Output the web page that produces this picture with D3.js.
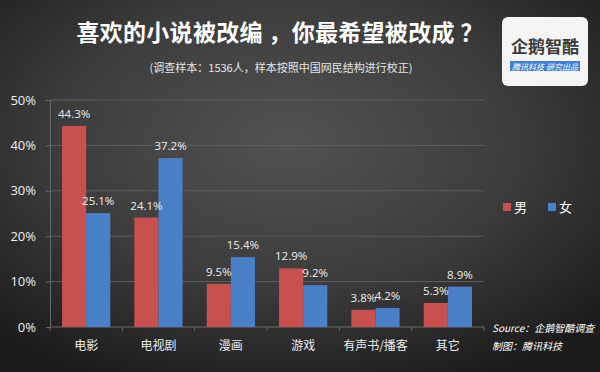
<!DOCTYPE html>
<html>
<head>
<meta charset="utf-8">
<script src="https://cdn.jsdelivr.net/npm/d3@7"></script>
<style>
  html, body { margin: 0; padding: 0; background: #2a2a2a; }
  svg { display: block; font-family: "Noto Sans CJK SC", "Noto Sans", sans-serif; }
</style>
</head>
<body>
<svg id="chart" width="600" height="372"></svg>
<script>
// Data.
var categories = ["电影", "电视剧", "漫画", "游戏", "有声书/播客", "其它"];
var seriesNames = ["男", "女"];
var maleValues = [44.3, 24.1, 9.5, 12.9, 3.8, 5.3];
var femaleValues = [25.1, 37.2, 15.4, 9.2, 4.2, 8.9];
var yTicks = [0, 10, 20, 30, 40, 50];
var colors = { "男": "#c8504e", "女": "#4a80c8" };

var svg = d3.select("#chart");
var W = 600, H = 372;

// Background: dark radial gradient, lighter in the middle.
var defs = svg.append("defs");
var grad = defs.append("radialGradient")
  .attr("id", "bg")
  .attr("cx", "48%").attr("cy", "38%").attr("r", "70%");
grad.append("stop").attr("offset", "0%").attr("stop-color", "#525252");
grad.append("stop").attr("offset", "55%").attr("stop-color", "#3c3c3c");
grad.append("stop").attr("offset", "100%").attr("stop-color", "#1c1c1c");
svg.append("rect").attr("width", W).attr("height", H).attr("fill", "url(#bg)");

// Title + subtitle.
svg.append("text")
  .attr("x", 280).attr("y", 41)
  .attr("text-anchor", "middle")
  .attr("fill", "#ffffff")
  .style("font-size", "23px").style("font-weight", "bold")
  .style("letter-spacing", "0.3px")
  .text("喜欢的小说被改编 ，你最希望被改成 ？");
svg.append("text")
  .attr("x", 281).attr("y", 72)
  .attr("text-anchor", "middle")
  .attr("fill", "#e6e6e6")
  .style("font-size", "11px")
  .text("(调查样本：1536人，样本按照中国网民结构进行校正)");

// Logo box.
var logo = svg.append("g").attr("transform", "translate(502,17)");
logo.append("rect").attr("width", 86).attr("height", 69).attr("rx", 6)
  .attr("fill", "#f4f4f4");
logo.append("text").attr("x", 43).attr("y", 36).attr("text-anchor", "middle")
  .attr("fill", "#3a3a3a").style("font-size", "17px").style("font-weight", "bold")
  .text("企鹅智酷");
logo.append("rect").attr("x", 8).attr("y", 44).attr("width", 70).attr("height", 10)
  .attr("fill", "#3f7fd6");
logo.append("text").attr("x", 43).attr("y", 52.5).attr("text-anchor", "middle")
  .attr("fill", "#ffffff").style("font-size", "8px").style("font-style", "italic")
  .text("腾讯科技  研究出品");

// Plot area.
var margin = { left: 50, right: 116, top: 100, bottom: 45 };
var plotW = W - margin.left - margin.right;
var plotH = 327 - margin.top;
var g = svg.append("g").attr("transform", "translate(" + margin.left + "," + margin.top + ")");

var x0 = d3.scaleBand().domain(categories).range([0, plotW])
  .paddingInner(1 / 3).paddingOuter(1 / 6);
var x1 = d3.scaleBand().domain(seriesNames).range([0, x0.bandwidth()]);
var y = d3.scaleLinear().domain([0, 50]).range([plotH, 0]);

// Gridlines.
g.append("g").selectAll("line")
  .data(yTicks.filter(function (d) { return d > 0; }))
  .enter().append("line")
  .attr("x1", 0).attr("x2", plotW)
  .attr("y1", function (d) { return y(d); }).attr("y2", function (d) { return y(d); })
  .attr("stroke", "#5e5e5e").attr("stroke-width", 1);

// Y axis.
var yAxis = g.append("g")
  .call(d3.axisLeft(y).tickValues(yTicks).tickSize(4).tickPadding(10)
    .tickFormat(function (d) { return d + "%"; }));
yAxis.select(".domain").attr("stroke", "#6a6a6a");
yAxis.selectAll(".tick line").attr("stroke", "#6a6a6a");
yAxis.selectAll("text").attr("fill", "#eeeeee")
  .style("font-size", "13px").style("font-family", "'Open Sans', 'Noto Sans', sans-serif");

// X axis with ticks at band boundaries.
var xAxisG = g.append("g").attr("transform", "translate(0," + plotH + ")");
xAxisG.append("line").attr("x1", 0).attr("x2", plotW)
  .attr("stroke", "#6a6a6a");
var step = x0.step();
xAxisG.selectAll(".btick")
  .data(d3.range(categories.length + 1))
  .enter().append("line")
  .attr("class", "btick")
  .attr("x1", function (i) { return i * step; }).attr("x2", function (i) { return i * step; })
  .attr("y1", 0).attr("y2", 4)
  .attr("stroke", "#6a6a6a");
xAxisG.selectAll(".clabel")
  .data(categories)
  .enter().append("text")
  .attr("class", "clabel")
  .attr("x", function (d) { return x0(d) + x0.bandwidth() / 2; })
  .attr("y", 23)
  .attr("text-anchor", "middle")
  .attr("fill", "#eeeeee")
  .style("font-size", "12px")
  .text(function (d) { return d; });

// Bars.
var rows = categories.map(function (c, i) {
  return { cat: c, vals: [
    { s: "男", v: maleValues[i] },
    { s: "女", v: femaleValues[i] }
  ] };
});
var groups = g.selectAll(".grp").data(rows).enter().append("g")
  .attr("class", "grp")
  .attr("transform", function (d) { return "translate(" + x0(d.cat) + ",0)"; });
groups.selectAll("rect").data(function (d) { return d.vals; }).enter().append("rect")
  .attr("x", function (d) { return x1(d.s); })
  .attr("y", function (d) { return y(d.v); })
  .attr("width", x1.bandwidth())
  .attr("height", function (d) { return plotH - y(d.v); })
  .attr("fill", function (d) { return colors[d.s]; });
groups.selectAll(".vlabel").data(function (d) { return d.vals; }).enter().append("text")
  .attr("class", "vlabel")
  .attr("x", function (d) { return x1(d.s) + x1.bandwidth() / 2; })
  .attr("y", function (d) { return y(d.v) - 8; })
  .attr("text-anchor", "middle")
  .attr("fill", "#eeeeee")
  .style("font-size", "11.5px").style("font-family", "'Open Sans', 'Noto Sans', sans-serif")
  .text(function (d) { return d.v.toFixed(1) + "%"; });

// Legend.
var legend = svg.append("g").attr("transform", "translate(503,201)");
seriesNames.forEach(function (s, i) {
  var lg = legend.append("g").attr("transform", "translate(" + (i * 45) + ",0)");
  lg.append("rect").attr("width", 8).attr("height", 8).attr("y", 2).attr("fill", colors[s]);
  lg.append("text").attr("x", 11).attr("y", 11).attr("fill", "#ffffff")
    .style("font-size", "13px").text(s);
});

// Source notes.
svg.append("text").attr("x", 492).attr("y", 332).attr("fill", "#ffffff")
  .style("font-size", "10px").style("font-style", "italic")
  .text("Source：企鹅智酷调查");
svg.append("text").attr("x", 492).attr("y", 350).attr("fill", "#ffffff")
  .style("font-size", "10px").style("font-style", "italic")
  .text("制图：腾讯科技");
</script>
</body>
</html>
